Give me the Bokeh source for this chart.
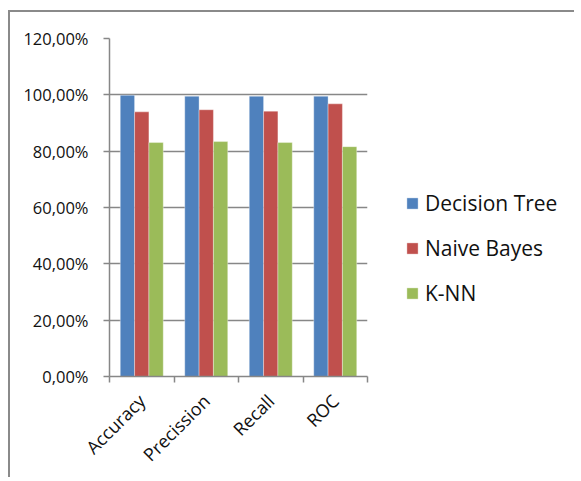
from bokeh.plotting import figure
from bokeh.layouts import row
from bokeh.models import (Range1d, FixedTicker, CustomJSTickFormatter, Legend, LegendItem,
                          ColumnDataSource)
from bokeh.embed import file_html
from bokeh.resources import INLINE
import math

categories = ["Accuracy", "Precission", "Recall", "ROC"]
series_names = ["Decision Tree", "Naive Bayes", "K-NN"]
decision_tree = [99.85, 99.5, 99.5, 99.5]
naive_bayes = [93.95, 94.7, 94.2, 96.8]
knn = [83.05, 83.4, 83.05, 81.6]
colors = ["#4F81BD", "#C0504D", "#9BBB59"]
y_ticks = [0, 20, 40, 60, 80, 100, 120]

FONT = "Open Sans"
GRID = "#878787"

p = figure(frame_width=258, frame_height=338, output_backend="svg", toolbar_location=None,
           x_range=Range1d(0, len(categories)), y_range=Range1d(0, 120),
           min_border_left=99, min_border_top=26, min_border_bottom=94, min_border_right=2,
           outline_line_color=None)

n = len(series_names)
bar_w = 1.0 / (n + 1.5)
centers = [i + 0.5 for i in range(len(categories))]
sources = []
for k, (name, vals, col) in enumerate(zip(series_names, [decision_tree, naive_bayes, knn], colors)):
    off = (k - (n - 1) / 2) * bar_w
    src = ColumnDataSource(dict(x=[c + off for c in centers], top=vals))
    sources.append(src)
    p.vbar(x="x", top="top", width=bar_w, bottom=0, source=src, fill_color=col,
           line_color="white", line_alpha=0.35, line_width=1)

# x axis: labels at category centres, ticks at category boundaries
p.xaxis.ticker = FixedTicker(ticks=centers, minor_ticks=list(range(len(categories) + 1)))
p.xaxis.major_label_overrides = {c: name for c, name in zip(centers, categories)}
p.xaxis.major_tick_out = 0
p.xaxis.major_tick_in = 0
p.xaxis.minor_tick_out = 6
p.xaxis.minor_tick_in = 0
p.xaxis.minor_tick_line_color = GRID
p.xaxis.minor_tick_line_width = 1.5
p.xaxis.major_label_orientation = math.pi / 4
p.xaxis.major_label_text_font = FONT
p.xaxis.major_label_text_font_size = "18px"
p.xaxis.major_label_text_color = "#111111"
p.xaxis.major_label_standoff = 15
p.xaxis.axis_line_color = GRID
p.xaxis.axis_line_width = 1.5
p.xgrid.grid_line_color = None

p.yaxis.ticker = FixedTicker(ticks=y_ticks, minor_ticks=[])
p.yaxis.formatter = CustomJSTickFormatter(code="return tick.toFixed(2).replace('.', ',') + '%';")
p.yaxis.major_tick_out = 6
p.yaxis.major_tick_in = 0
p.yaxis.major_tick_line_color = GRID
p.yaxis.major_tick_line_width = 1.5
p.yaxis.major_label_text_font = FONT
p.yaxis.major_label_text_font_size = "16.5px"
p.yaxis.major_label_text_color = "#111111"
p.yaxis.major_label_standoff = 15
p.yaxis.axis_line_color = GRID
p.yaxis.axis_line_width = 1.5
p.ygrid.grid_line_color = GRID
p.ygrid.grid_line_width = 1.5

# legend panel (separate figure to the right of the chart)
lf = figure(width=205, height=461, output_backend="svg", toolbar_location=None,
            x_range=Range1d(0, 1), y_range=Range1d(0, 1), min_border=0,
            outline_line_color=None)
lf.axis.visible = False
lf.grid.visible = False
items = []
for name, col, src in zip(series_names, colors, sources):
    r = lf.vbar(x="x", top="top", width=bar_w, bottom=0, source=src, fill_color=col,
                line_color="white", line_alpha=0.35, visible=False)
    items.append(LegendItem(label=name, renderers=[r]))
legend = Legend(items=items, location=(36, 65), orientation="vertical",
                glyph_width=14, glyph_height=14, label_standoff=6, spacing=17,
                padding=0, margin=0, border_line_color=None, background_fill_alpha=0,
                inactive_fill_alpha=0,
                label_text_font=FONT, label_text_font_size="21px", label_text_color="#111111",
                label_height=20)
lf.add_layout(legend, "center")

layout = row(p, lf, styles={"border-left": "2px solid #8a8a8a", "border-top": "2px solid #8a8a8a",
                            "margin-top": "10px", "margin-left": "8px"})

open("out.html", "w").write(file_html(layout, INLINE))
